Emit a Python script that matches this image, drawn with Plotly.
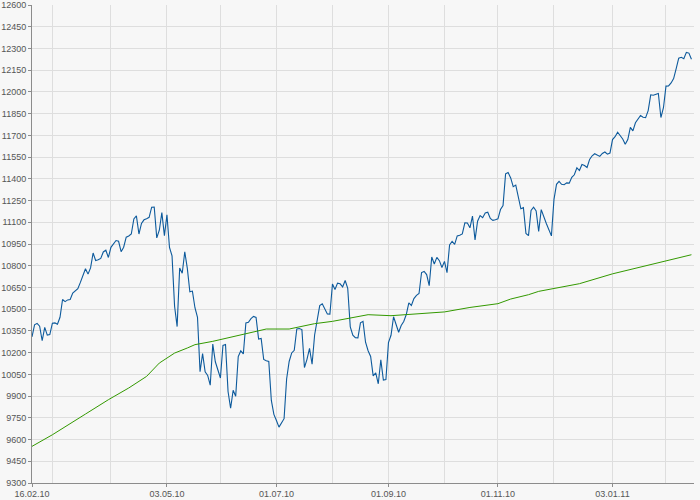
import pandas as pd
import plotly.graph_objects as go

# Trading days (US market) from 17.02.2010 to 15.02.2011
market_holidays = ["2010-04-02", "2010-05-31", "2010-07-05", "2010-09-06",
                   "2010-11-25", "2010-12-24", "2011-01-17"]
trade_dates = [d for d in pd.bdate_range("2010-02-17", "2011-02-15")
               if d.strftime("%Y-%m-%d") not in market_holidays]

# Daily index closes (blue line), month by month
close_feb10 = [10309, 10392, 10402, 10383, 10282, 10374, 10321, 10325]
close_mar10 = [10403, 10405, 10396, 10444, 10567, 10552, 10564, 10567, 10611, 10624,
               10642, 10685, 10733, 10779, 10742, 10785, 10888, 10836, 10841, 10850,
               10895, 10907, 10857]
close_apr10 = [10927, 10974, 10969, 10897, 10928, 10997, 11005, 11019, 11123, 11144,
               11019, 11092, 11117, 11125, 11134, 11204, 11205, 10992, 11045, 11167, 11008]
close_may10 = [11151, 10926, 10868, 10520, 10380, 10785, 10748, 10896, 10782, 10620,
               10625, 10510, 10444, 10068, 10193, 10067, 10043, 9975, 10259, 10137]
close_jun10 = [10025, 10250, 10256, 9932, 9816, 9940, 9899, 10173, 10212, 10191,
               10405, 10410, 10435, 10450, 10443, 10294, 10298, 10153, 10144, 10139,
               9870, 9774]
close_jul10 = [9732, 9686, 9744, 10018, 10139, 10198, 10216, 10364, 10367, 10359,
               10097, 10154, 10230, 10120, 10322, 10424, 10525, 10537, 10497, 10467, 10466]
close_aug10 = [10674, 10636, 10680, 10675, 10654, 10698, 10644, 10378, 10320, 10303,
               10302, 10406, 10416, 10272, 10213, 10174, 10040, 10060, 9985, 10150,
               10010, 10014]
close_sep10 = [10269, 10320, 10448, 10341, 10387, 10415, 10463, 10544, 10526, 10573,
               10595, 10608, 10753, 10761, 10739, 10662, 10860, 10812, 10858, 10835, 10788]
close_oct10 = [10830, 10752, 10944, 10968, 10948, 11006, 11010, 11020, 11096, 11095,
               11062, 11143, 10978, 11107, 11146, 11132, 11164, 11169, 11126, 11113, 11118]
close_nov10 = [11124, 11188, 11215, 11434, 11444, 11406, 11346, 11357, 11283, 11193,
               11201, 11023, 11008, 11181, 11204, 11179, 11036, 11187, 11092, 11052, 11006]
close_dec10 = [11256, 11362, 11382, 11362, 11359, 11372, 11370, 11410, 11428, 11476,
               11457, 11499, 11492, 11478, 11534, 11559, 11573, 11555, 11575, 11585,
               11570, 11578]
close_jan11 = [11671, 11691, 11722, 11697, 11675, 11638, 11671, 11755, 11731, 11787,
               11837, 11825, 11822, 11871, 11980, 11977, 11985, 11989, 11823, 11891]
close_feb11 = [12040, 12041, 12062, 12092, 12161, 12233, 12239, 12229, 12273, 12268, 12226]

closes = (close_feb10 + close_mar10 + close_apr10 + close_may10 + close_jun10 +
          close_jul10 + close_aug10 + close_sep10 + close_oct10 + close_nov10 +
          close_dec10 + close_jan11 + close_feb11)

# 200-day moving average (green line)
ma_dates = ["2010-02-17", "2010-03-01", "2010-03-18", "2010-03-31", "2010-04-12",
            "2010-04-21", "2010-04-28", "2010-05-03", "2010-05-06", "2010-05-13",
            "2010-05-18", "2010-05-27", "2010-06-02", "2010-06-14", "2010-06-22",
            "2010-06-25", "2010-07-08", "2010-07-22", "2010-08-02", "2010-08-09",
            "2010-08-16", "2010-08-20", "2010-09-02", "2010-09-20", "2010-10-01",
            "2010-10-15", "2010-11-01", "2010-11-08", "2010-11-17", "2010-11-23",
            "2010-12-15", "2011-01-03", "2011-01-24", "2011-02-15"]
ma_values = [9553, 9633, 9776, 9875, 9956,
             10036, 10128, 10163, 10197, 10232,
             10255, 10278, 10294, 10324, 10347,
             10363, 10363, 10400, 10416, 10432,
             10446, 10462, 10455, 10467, 10481,
             10512, 10538, 10570, 10600, 10623,
             10676, 10744, 10807, 10876]

# Axis settings
x_range = ["2010-02-17", "2011-02-16"]
month_grid = ["2010-03-01", "2010-04-01", "2010-05-03", "2010-06-01", "2010-07-01",
              "2010-08-02", "2010-09-01", "2010-10-01", "2010-11-01", "2010-12-01",
              "2011-01-03", "2011-02-01"]
label_vals = ["2010-02-17", "2010-05-03", "2010-07-01", "2010-09-01", "2010-11-01", "2011-01-03"]
label_text = ["16.02.10", "03.05.10", "01.07.10", "01.09.10", "01.11.10", "03.01.11"]
y_min, y_max, y_step = 9300, 12600, 150

bg = "#f7f7f7"
grid = "#dedede"
axis_col = "#8c8c8c"
font_col = "#555555"
breaks = [dict(bounds=["sat", "mon"])]

fig = go.Figure()
fig.add_trace(go.Scatter(x=ma_dates, y=ma_values, mode="lines",
                         line=dict(color="#339900", width=1), xaxis="x2",
                         hoverinfo="skip"))
fig.add_trace(go.Scatter(x=trade_dates, y=closes, mode="lines",
                         line=dict(color="#0d5a9c", width=1.1), xaxis="x"))

fig.update_layout(
    width=700, height=500,
    margin=dict(l=32, r=6, t=5, b=17),
    paper_bgcolor=bg, plot_bgcolor=bg,
    showlegend=False,
    font=dict(family="Liberation Sans, Arial, sans-serif", size=9, color=font_col),
    xaxis=dict(type="date", range=x_range, rangebreaks=breaks,
               tickmode="array", tickvals=month_grid, showticklabels=False,
               ticks="", showgrid=True, gridcolor=grid, gridwidth=1,
               showline=True, linecolor=axis_col, linewidth=1,
               zeroline=False, automargin=False),
    xaxis2=dict(type="date", range=x_range, rangebreaks=breaks, matches="x",
                overlaying="x", anchor="y", side="bottom",
                tickmode="array", tickvals=label_vals, ticktext=label_text,
                ticks="outside", ticklen=3, tickcolor=axis_col,
                ticklabelstandoff=-1,
                showgrid=False, showline=False, zeroline=False, automargin=False,
                tickfont=dict(size=9, color=font_col)),
    yaxis=dict(range=[y_min, y_max], tickmode="linear", tick0=y_min, dtick=y_step,
               tickformat="d",
               showgrid=True, gridcolor=grid, gridwidth=1,
               showline=True, linecolor=axis_col, linewidth=1,
               ticks="outside", ticklen=3, tickcolor=axis_col,
               zeroline=False, automargin=False,
               tickfont=dict(size=9, color=font_col)),
)

fig.write_html("out.html",
               config={"displayModeBar": False},
               post_script="document.body.style.margin='0';document.body.style.overflow='hidden';")
